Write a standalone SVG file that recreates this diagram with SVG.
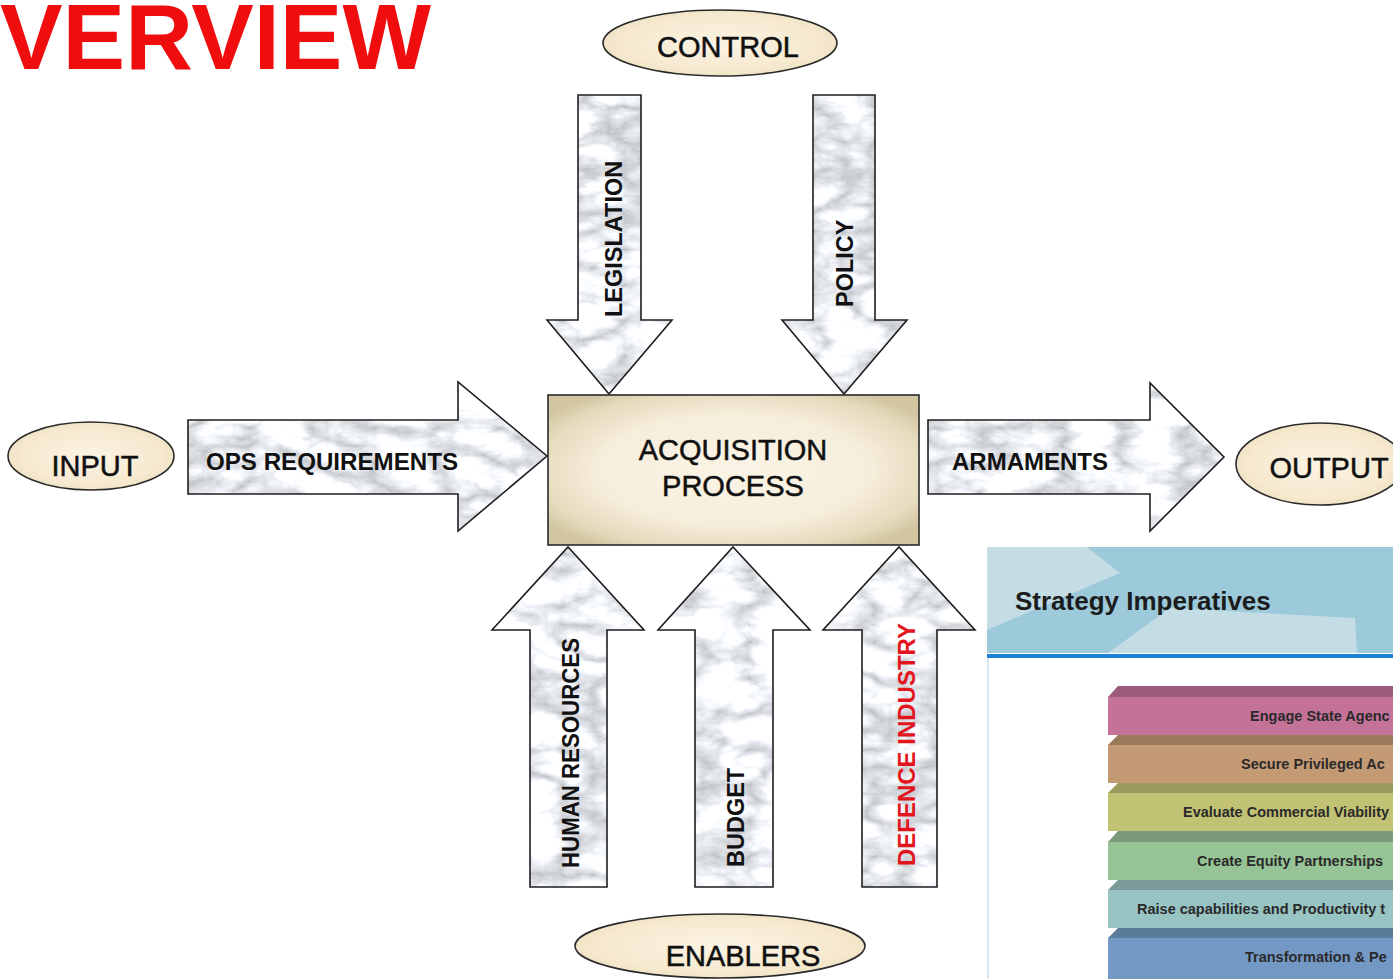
<svg xmlns="http://www.w3.org/2000/svg" width="1393" height="979" viewBox="0 0 1393 979">
<defs>
<style>
.ell{fill:url(#ellG);stroke:#2a2a2a;stroke-width:1.6}
.lbl{font-family:"Liberation Sans",Arial,sans-serif;font-size:29px;fill:#111;stroke:#111;stroke-width:0.5}
.arr{fill:url(#marble);stroke:#1e1e1e;stroke-width:1.6;stroke-linejoin:miter}
.al{font-family:"Liberation Sans",Arial,sans-serif;font-size:23.5px;font-weight:bold;fill:#111}
.bar{font-family:"Liberation Sans",Arial,sans-serif;font-size:14.5px;font-weight:bold;fill:#2a2a2a}
</style>
<filter id="mf" x="0" y="0" width="1" height="1" color-interpolation-filters="sRGB">
<feTurbulence type="turbulence" baseFrequency="0.016 0.028" numOctaves="4" seed="11" stitchTiles="stitch"/>
<feColorMatrix type="matrix" values="0.6 0 0 0 0.74  0.6 0 0 0 0.75  0.6 0 0 0 0.77  0 0 0 0 1"/>
</filter>
<pattern id="marble" patternUnits="userSpaceOnUse" width="1000" height="1000">
<rect width="1000" height="1000" fill="#eee" filter="url(#mf)"/>
</pattern>
<radialGradient id="ellG" cx="0.5" cy="0.5" r="0.6">
<stop offset="0" stop-color="#fbf3e3"/>
<stop offset="0.7" stop-color="#f6e9cf"/>
<stop offset="1" stop-color="#ecdcba"/>
</radialGradient>
<radialGradient id="boxG" cx="0.5" cy="0.5" r="0.62">
<stop offset="0" stop-color="#fbf4e6"/>
<stop offset="0.6" stop-color="#f6eddb"/>
<stop offset="0.86" stop-color="#e6dbbd"/>
<stop offset="1" stop-color="#d2c6a1"/>
</radialGradient>
</defs>
<rect width="1393" height="979" fill="#ffffff"/>

<g id="title">
<text x="0" y="69" font-family="Liberation Sans,Arial,sans-serif" font-size="92" font-weight="bold" fill="#f00d0d" textLength="431" lengthAdjust="spacingAndGlyphs">VERVIEW</text>
</g>

<g id="control">
<ellipse class="ell" cx="720" cy="43" rx="117" ry="33"/>
<text class="lbl" x="728" y="57" text-anchor="middle">CONTROL</text>
</g>

<g id="input">
<ellipse class="ell" cx="91" cy="456" rx="83" ry="34"/>
<text class="lbl" x="95" y="476" text-anchor="middle">INPUT</text>
</g>

<g id="output">
<ellipse class="ell" cx="1320" cy="464" rx="84" ry="41"/>
<text class="lbl" x="1329" y="478" text-anchor="middle">OUTPUT</text>
</g>

<g id="enablers">
<ellipse class="ell" cx="720" cy="946" rx="145" ry="32"/>
<text class="lbl" x="743" y="966" text-anchor="middle">ENABLERS</text>
</g>

<g id="connectors">
<g id="ops-requirements">
<polygon class="arr" points="188,420 458,420 458,382 547,456 458,531 458,494 188,494"/>
<text class="al" x="206" y="470" textLength="252" lengthAdjust="spacingAndGlyphs">OPS REQUIREMENTS</text>
</g>
<g id="armaments">
<polygon class="arr" points="928,420 1150,420 1150,383 1224,457 1150,531 1150,494 928,494"/>
<text class="al" x="952" y="470" textLength="156" lengthAdjust="spacingAndGlyphs">ARMAMENTS</text>
</g>
<g id="legislation">
<polygon class="arr" points="578,95 641,95 641,320 672,320 609,394 547,320 578,320"/>
<text class="al" transform="translate(622,317) rotate(-90)">LEGISLATION</text>
</g>
<g id="policy">
<polygon class="arr" points="813,95 875,95 875,320 907,320 844,394 782,320 813,320"/>
<text class="al" transform="translate(853,307) rotate(-90)">POLICY</text>
</g>
<g id="human-resources">
<polygon class="arr" points="530,887 607,887 607,630 644,630 568,547 492,630 530,630"/>
<text class="al" transform="translate(579,868) rotate(-90)" textLength="230" lengthAdjust="spacingAndGlyphs">HUMAN RESOURCES</text>
</g>
<g id="budget">
<polygon class="arr" points="695,887 773,887 773,630 810,630 733,547 658,630 695,630"/>
<text class="al" transform="translate(744,867) rotate(-90)">BUDGET</text>
</g>
<g id="defence-industry">
<polygon class="arr" points="862,887 937,887 937,630 975,630 899,547 823,630 862,630"/>
<text class="al" transform="translate(915,866) rotate(-90)" style="fill:#e3141b" textLength="243" lengthAdjust="spacingAndGlyphs">DEFENCE INDUSTRY</text>
</g>
</g>

<g id="process">
<rect x="548" y="395" width="371" height="150" fill="url(#boxG)" stroke="#2a2a2a" stroke-width="1.6"/>
<text class="lbl" x="733" y="460" text-anchor="middle">ACQUISITION</text>
<text class="lbl" x="733" y="496" text-anchor="middle">PROCESS</text>
</g>

<g id="strategy-panel">
<rect x="987" y="547" width="406" height="106" fill="#9ccadb"/>
<polygon points="987,547 1087,547 1120,573 987,630" fill="#c4dde5"/>
<polygon points="1108,653 1170,608 1355,618 1357,653" fill="#c4dde5"/>
<rect x="987" y="654" width="406" height="4" fill="#1d82d6"/>
<rect x="987" y="658" width="406" height="321" fill="#ffffff"/>
<rect x="987" y="658" width="2" height="321" fill="#d6eaf2"/>
<text x="1015" y="610" font-family="Liberation Sans,Arial,sans-serif" font-size="26" font-weight="bold" fill="#1c1c1c">Strategy Imperatives</text>
</g>

<g id="bar-1">
<polygon points="1108,697 1118,686 1393,686 1393,697" fill="#995a7b"/>
<rect x="1108" y="697" width="285" height="38" fill="#c47298"/>
<text class="bar" x="1250" y="721">Engage State Agenc</text>
</g>
<g id="bar-2">
<polygon points="1108,745 1118,735 1393,735 1393,745" fill="#9b7a5b"/>
<rect x="1108" y="745" width="285" height="38" fill="#c49a74"/>
<text class="bar" x="1241" y="769">Secure Privileged Ac</text>
</g>
<g id="bar-3">
<polygon points="1108,793 1118,783 1393,783 1393,793" fill="#9a9a5c"/>
<rect x="1108" y="793" width="285" height="38" fill="#c2c274"/>
<text class="bar" x="1183" y="817">Evaluate Commercial Viability</text>
</g>
<g id="bar-4">
<polygon points="1108,842 1118,831 1393,831 1393,842" fill="#7b9a7b"/>
<rect x="1108" y="842" width="285" height="38" fill="#97c497"/>
<text class="bar" x="1197" y="866">Create Equity Partnerships</text>
</g>
<g id="bar-5">
<polygon points="1108,890 1118,880 1393,880 1393,890" fill="#7b9a9a"/>
<rect x="1108" y="890" width="285" height="38" fill="#98c4c4"/>
<text class="bar" x="1137" y="914">Raise capabilities and Productivity t</text>
</g>
<g id="bar-6">
<polygon points="1108,938 1118,928 1393,928 1393,938" fill="#5b7b9b"/>
<rect x="1108" y="938" width="285" height="41" fill="#7398c4"/>
<text class="bar" x="1245" y="962">Transformation &amp; Pe</text>
</g>
</svg>
